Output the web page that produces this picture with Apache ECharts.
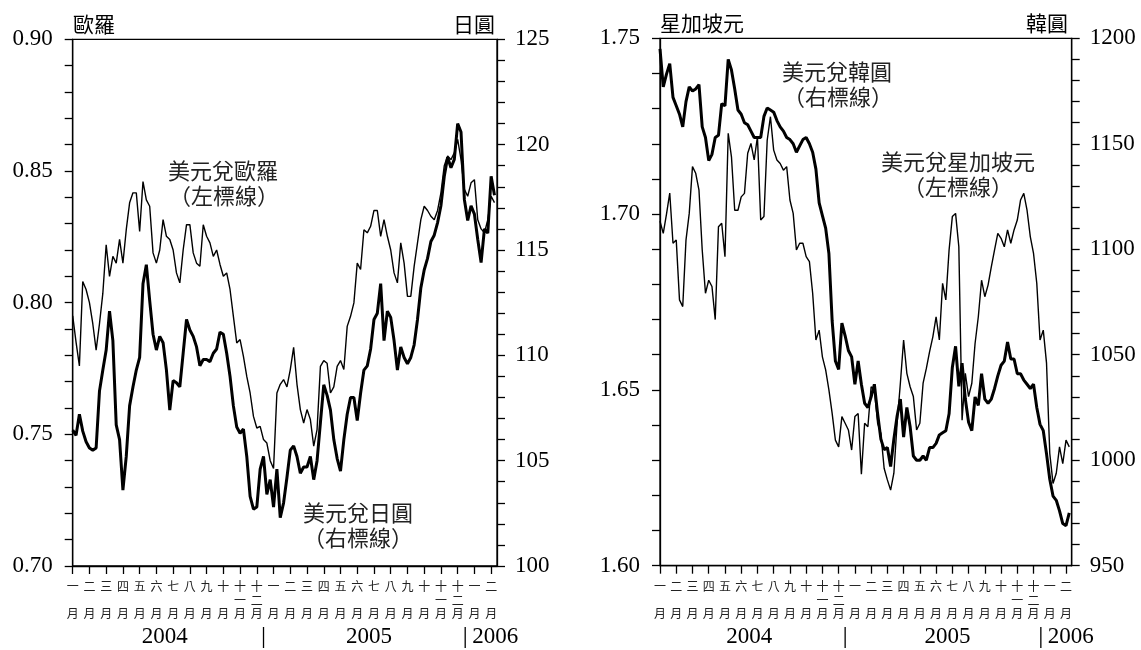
<!DOCTYPE html>
<html><head><meta charset="utf-8">
<script src="https://cdn.jsdelivr.net/npm/echarts@6/dist/echarts.min.js"></script>
<style>html,body{margin:0;padding:0;background:#fff}#c{width:1141px;height:650px}</style>
</head><body><div id="c"></div>
<script>
// sample spacing (in months) starting 1 Jan 2004
const STEP = 0.2;
const X_MAX = 25.35;
const monthLabels = ['一','二','三','四','五','六','七','八','九','十','十一','十二',
                     '一','二','三','四','五','六','七','八','九','十','十一','十二','一','二'];
const yearLabels = ['2004','2005','2006'];
const eurLabels = [0.70, 0.75, 0.80, 0.85, 0.90];
const jpyLabels = [100, 105, 110, 115, 120, 125];
const sgdLabels = [1.60, 1.65, 1.70, 1.75];
const krwLabels = [950, 1000, 1050, 1100, 1150, 1200];

// USD/EUR (left axis, left panel)
const eur = [0.795,0.785,0.776,0.808,0.805,0.800,0.792,0.782,0.792,0.8035,
0.822,0.810,0.8176,0.815,0.824,0.815,0.8277,0.8379,0.8417,0.8417,
0.827,0.846,0.839,0.8366,0.8189,0.815,0.820,0.8315,0.8252,0.824,
0.820,0.8113,0.8075,0.820,0.8296,0.8296,0.8189,0.815,0.8138,0.8296,
0.8252,0.8227,0.8176,0.820,0.8145,0.810,0.8113,0.805,0.7948,0.7847,
0.786,0.7796,0.772,0.7657,0.7568,0.7524,0.753,0.748,0.7467,0.740,
0.737,0.7657,0.769,0.7708,0.768,0.7746,0.783,0.769,0.7594,0.7543,
0.7594,0.7556,0.7455,0.7518,0.7758,0.778,0.777,0.7657,0.768,0.7758,
0.778,0.7746,0.791,0.7948,0.7999,0.815,0.8126,0.8277,0.8265,0.829,
0.835,0.835,0.8252,0.8315,0.8252,0.820,0.8113,0.8075,0.8227,0.815,
0.8024,0.8024,0.8138,0.8227,0.8315,0.8366,0.835,0.8328,0.8315,0.835,
0.8417,0.852,0.8557,0.8543,0.8569,0.862,0.8543,0.843,0.8404,0.8455,
0.8467,0.8315,0.828,0.8265,0.8315,0.8404,0.838];

// USD/JPY (right axis, left panel)
const jpy = [106.45,106.2,107.2,106.4,105.9,105.6,105.5,105.6,108.3,109.3,
110.25,112.1,110.7,106.7,106.0,103.6,105.2,107.6,108.5,109.3,
109.9,113.4,114.3,112.6,111.0,110.25,110.9,110.6,109.3,107.4,
108.8,108.7,108.5,110.1,111.7,111.2,110.9,110.4,109.5,109.8,
109.8,109.7,110.1,110.3,111.1,111.0,110.1,109.0,107.6,106.6,
106.3,106.5,105.2,103.3,102.7,102.8,104.6,105.2,103.4,104.1,
102.8,104.6,102.3,103.0,104.2,105.5,105.7,105.2,104.4,104.7,
104.7,105.2,104.1,105.0,106.8,108.6,108.1,107.4,106.0,105.1,
104.5,106.0,107.2,108.0,108.0,106.9,108.2,109.3,109.5,110.3,
111.7,112.0,113.4,110.7,112.1,111.8,110.7,109.3,110.4,109.9,
109.6,109.9,110.5,111.7,113.2,114.05,114.6,115.4,115.7,116.3,
117.1,118.5,119.4,118.9,119.3,121.0,120.6,117.4,116.4,117.1,
116.7,115.5,114.4,116.0,115.8,118.5,117.6];

// USD/SGD (left axis, right panel)
const sgd = [1.698,1.6945,1.700,1.706,1.6917,1.6926,1.6756,1.6737,1.6926,1.7002,
1.7135,1.7116,1.7068,1.6898,1.6775,1.6812,1.6794,1.670,1.6964,1.6974,
1.6879,1.723,1.7163,1.7011,1.7011,1.7049,1.7059,1.7173,1.7201,1.7154,
1.722,1.6983,1.6993,1.721,1.7277,1.7182,1.7154,1.7144,1.7125,1.7135,
1.704,1.7002,1.6898,1.6917,1.6917,1.6879,1.6865,1.6775,1.6642,1.667,
1.6594,1.6557,1.65,1.6433,1.6357,1.6338,1.6424,1.6405,1.6386,1.6329,
1.6424,1.6433,1.626,1.6405,1.6395,1.6509,1.65,1.6405,1.6376,1.6277,
1.6244,1.6215,1.6263,1.6405,1.6519,1.6642,1.6547,1.6509,1.6481,1.6386,
1.6405,1.6519,1.6561,1.6609,1.6651,1.6708,1.6642,1.6803,1.6756,1.6898,
1.6993,1.7002,1.6907,1.6414,1.6547,1.6481,1.6519,1.6632,1.6708,1.6812,
1.6765,1.6798,1.685,1.6898,1.6945,1.6931,1.6907,1.6955,1.6917,1.6955,
1.6983,1.704,1.7059,1.7011,1.6936,1.6888,1.6803,1.6642,1.667,1.6576,
1.6319,1.6234,1.6263,1.6338,1.629,1.6357,1.6338];

// USD/KRW (right axis, right panel)
const krw = [1195,1177,1183,1188,1172,1168,1164,1158,1170,1177,
1175,1176,1178,1158,1153,1142,1145,1153,1154,1169,
1168,1190,1185,1176,1166,1164,1160,1159,1156,1153,
1153,1153,1163,1167,1166,1165,1161,1158,1156,1153,
1152,1150,1146,1149,1152,1153,1150,1146,1138,1122,
1116,1110,1098,1066,1047,1043,1065,1059,1052,1049,
1036,1047,1036,1027,1025,1030,1036,1022,1010,1005,
1006,997,1010,1021,1029,1011,1025,1016,1002,1000,
1000,1002,1000,1006,1006,1008,1012,1013,1014,1022,
1044,1054,1035,1046,1029,1018,1014,1030,1026,1041,
1029,1027,1029,1034,1040,1045,1047,1056,1048,1048,
1041,1041,1038,1036,1034,1036,1025,1017,1014,1003,
991,983,981,976,970,969,975];

const SERIF = '"Liberation Serif","Times New Roman",serif';
const CJK = '"Noto Sans CJK TC","Noto Sans CJK SC",sans-serif';
const BLACK = '#000';

function range(a, b, s) { const out = []; const n = Math.round((b - a) / s); for (let k = 0; k <= n; k++) out.push(+(a + k * s).toFixed(6)); return out; }
const monthTicks = monthLabels.map((_, k) => k);

function fmtMonth(v) {
  const lab = monthLabels[Math.round(v)] || '';
  const c = lab.split('');
  return [c[0] || ' ', c[1] || ' ', '月'].join('\n');
}

function xAxis(gi) {
  return {
    type: 'value', gridIndex: gi, min: 0, max: X_MAX,
    axisLine: { show: true, onZero: false, lineStyle: { color: BLACK, width: 1.3 } },
    axisTick: { show: true, inside: false, length: 8, customValues: monthTicks, lineStyle: { color: BLACK, width: 1.3 } },
    axisLabel: { show: true, customValues: monthTicks, margin: 14, formatter: fmtMonth,
      fontFamily: CJK, fontSize: 12, lineHeight: 13.5, color: '#222' },
    splitLine: { show: false }
  };
}

function yAxis(gi, pos, labels, step, digits, margin) {
  return {
    type: 'value', gridIndex: gi, position: pos,
    min: labels[0], max: labels[labels.length - 1],
    axisLine: { show: true, onZero: false, lineStyle: { color: BLACK, width: 1.3 } },
    axisTick: { show: true, inside: false, length: 8,
      customValues: range(labels[0], labels[labels.length - 1], step), lineStyle: { color: BLACK, width: 1.3 } },
    axisLabel: { show: true, customValues: labels, margin: margin,
      formatter: v => v.toFixed(digits), fontFamily: SERIF, fontSize: 23, color: BLACK },
    splitLine: { show: false }
  };
}

function pts(arr) { return arr.map((v, i) => [+(i * STEP).toFixed(2), v]); }

function line(arr, xi, yi, w, z) {
  return { type: 'line', xAxisIndex: xi, yAxisIndex: yi, data: pts(arr),
    symbol: 'none', showSymbol: false, smooth: false, z: z,
    lineStyle: { color: BLACK, width: w }, emphasis: { disabled: true } };
}

const chart = echarts.init(document.getElementById('c'), null, { renderer: 'canvas' });
chart.setOption({
  animation: false,
  backgroundColor: '#fff',
  grid: [
    { left: 72.7, top: 39.3, width: 424.3, height: 526.7, show: true, borderColor: BLACK, borderWidth: 1.3, backgroundColor: 'transparent', containLabel: false },
    { left: 660, top: 38.3, width: 411.7, height: 527.4, show: true, borderColor: BLACK, borderWidth: 1.3, backgroundColor: 'transparent', containLabel: false }
  ],
  xAxis: [xAxis(0), xAxis(1)],
  yAxis: [
    yAxis(0, 'left', eurLabels, 0.01, 2, 20),
    yAxis(0, 'right', jpyLabels, 1, 0, 18),
    yAxis(1, 'left', sgdLabels, 0.01, 2, 20),
    yAxis(1, 'right', krwLabels, 10, 0, 18)
  ],
  series: [
    line(eur, 0, 0, 1.4, 2),
    line(jpy, 0, 1, 3, 3),
    line(sgd, 1, 2, 1.4, 2),
    line(krw, 1, 3, 3, 3)
  ]
});

function txt(x, y, text, font, align, fill) {
  return { type: 'text', x: x, y: y, silent: true, z: 10,
    style: { text: text, font: font, align: align, verticalAlign: 'middle', fill: fill || BLACK } };
}
function px(xi, v) { return chart.convertToPixel({ xAxisIndex: xi }, v); }

const g = [];
const titleFont = '21px ' + CJK;
const noteFont = '22px ' + CJK;
const yearFont = '23px ' + SERIF;
// panel titles
g.push(txt(73, 24, '歐羅', titleFont, 'left'));
g.push(txt(495, 24, '日圓', titleFont, 'right'));
g.push(txt(660, 23, '星加坡元', titleFont, 'left'));
g.push(txt(1068, 23, '韓圓', titleFont, 'right'));
// series notes
g.push(txt(223, 171, '美元兌歐羅', noteFont, 'center', '#222'));
g.push(txt(224, 196, '（左標線）', noteFont, 'center', '#222'));
g.push(txt(358, 513, '美元兌日圓', noteFont, 'center', '#222'));
g.push(txt(358, 538, '（右標線）', noteFont, 'center', '#222'));
g.push(txt(837, 72, '美元兌韓圓', noteFont, 'center', '#222'));
g.push(txt(838, 97, '（右標線）', noteFont, 'center', '#222'));
g.push(txt(958, 162, '美元兌星加坡元', noteFont, 'center', '#222'));
g.push(txt(958, 187, '（左標線）', noteFont, 'center', '#222'));
// year row
[0, 1].forEach(xi => {
  const s1 = px(xi, 11.4), s2 = px(xi, 23.45);
  g.push(txt(px(xi, 5.5), 637, yearLabels[0], yearFont, 'center'));
  g.push(txt(px(xi, 17.7), 637, yearLabels[1], yearFont, 'center'));
  g.push(txt(s2 + 7, 637, yearLabels[2], yearFont, 'left'));
  [s1, s2].forEach(s => g.push({ type: 'line', silent: true, z: 10,
    shape: { x1: s, y1: 627, x2: s, y2: 648 }, style: { stroke: BLACK, lineWidth: 1.3 } }));
});
chart.setOption({ graphic: g });
</script>
</body></html>
